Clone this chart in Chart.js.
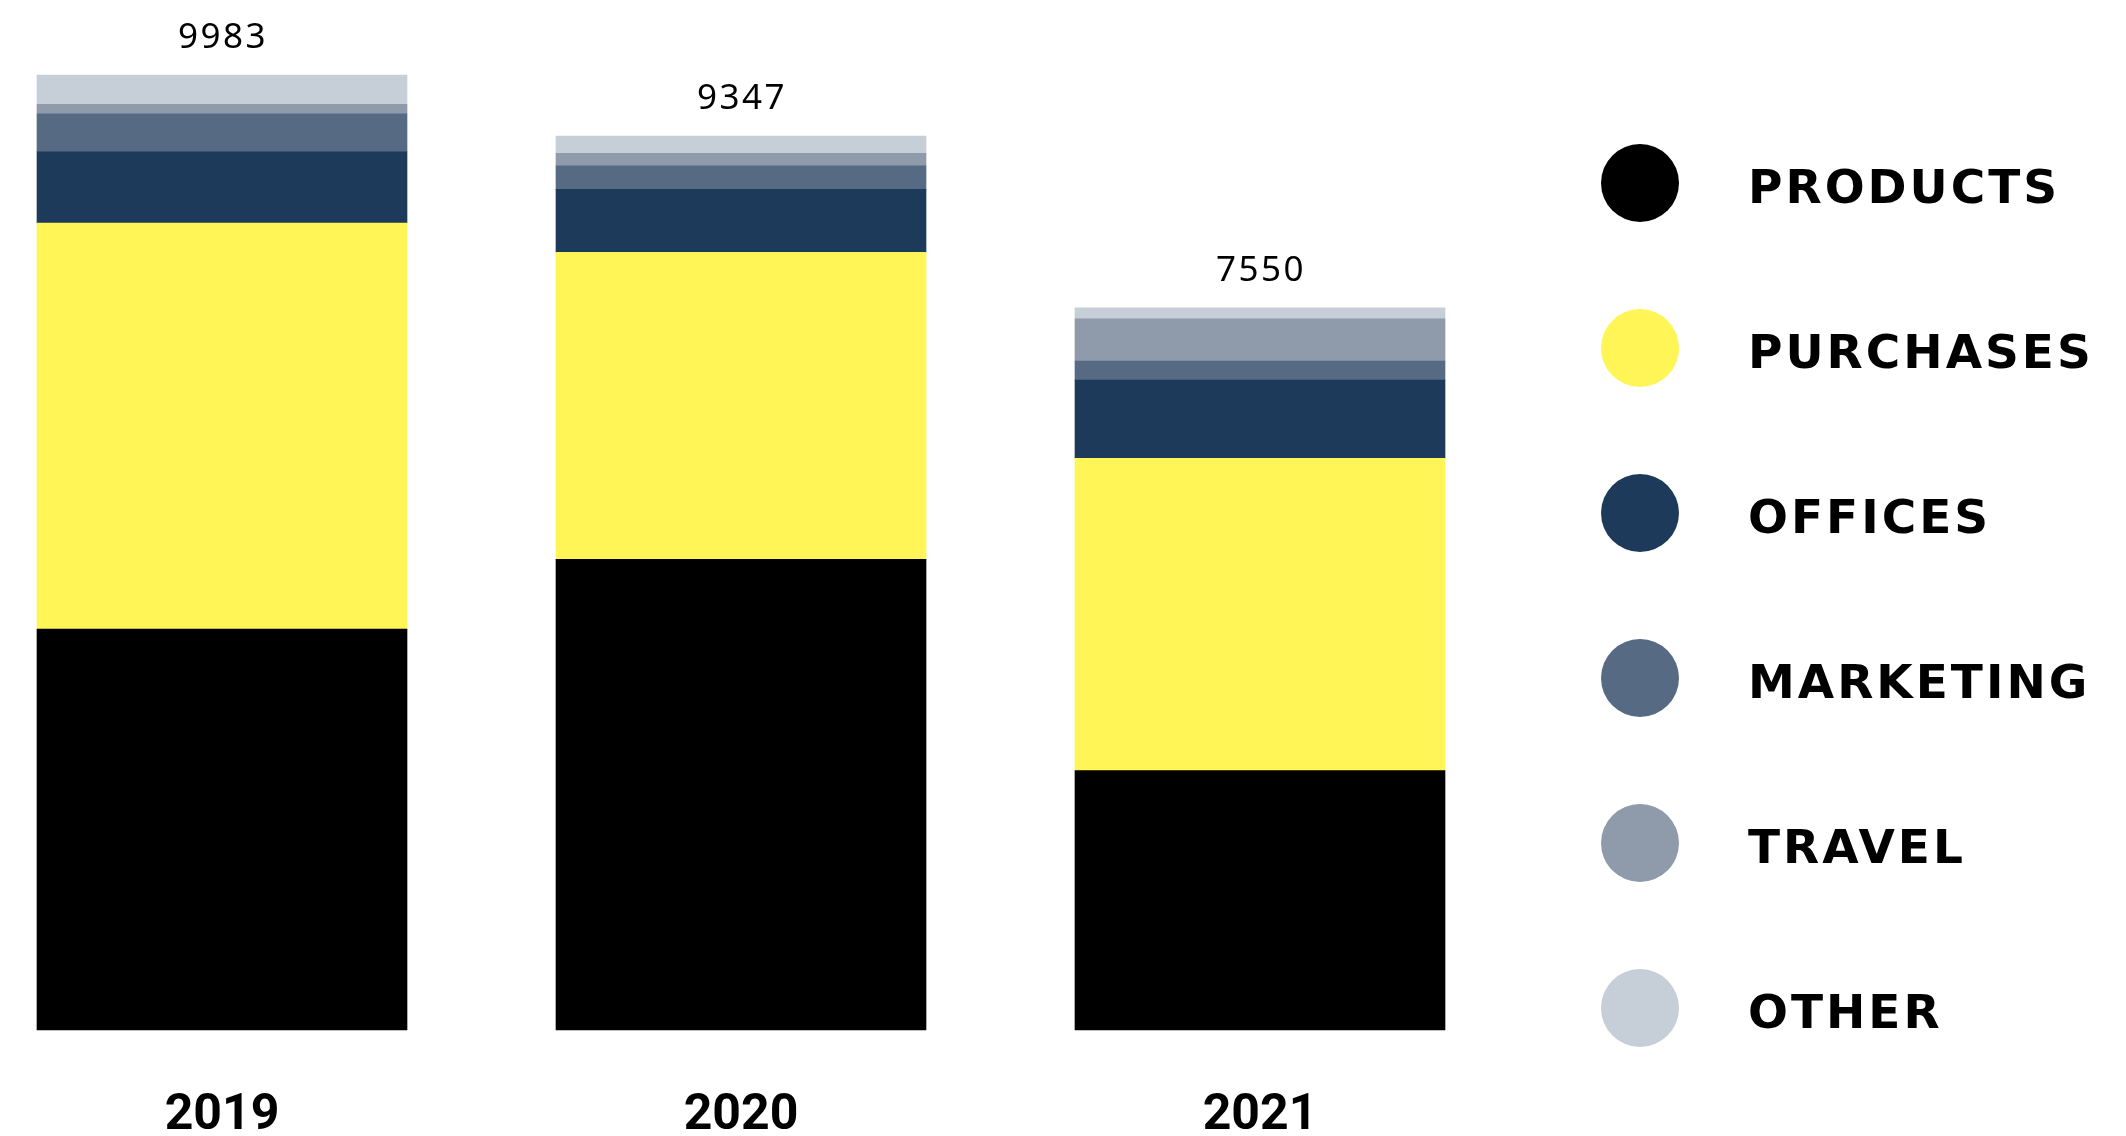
<!DOCTYPE html>
<html>
<head>
<meta charset="utf-8">
<title>Expenses by year</title>
<script src="https://cdn.jsdelivr.net/npm/chart.js@4.4.1/dist/chart.umd.min.js"></script>
<style>
    html, body { margin: 0; padding: 0; background: #fff; }
    .wrap { position: relative; width: 2126px; height: 1136px; overflow: hidden; }
    #chart { position: absolute; left: 0; top: 0; }
    #legend { position: absolute; left: 1601px; top: 100.5px; list-style: none; margin: 0; padding: 0; }
    #legend li { display: flex; align-items: center; height: 165px; }
    #legend .dot { width: 78px; height: 78px; border-radius: 50%; flex: none; }
    #legend .txt { margin-left: 69px; font: bold 47px "DejaVu Sans"; letter-spacing: 3px; color: #000; white-space: nowrap; position: relative; top: 3px; }
</style>
</head>
<body>
<div class="wrap">
    <canvas id="chart" width="2126" height="1136"></canvas>
    <ul id="legend"></ul>
</div>
<script>
    // Data
    var years = ["2019", "2020", "2021"];
    var products = [4191, 4920, 2712];
    var purchases = [4246, 3210, 3264];
    var offices = [745, 659, 818];
    var marketing = [397, 247, 200];
    var travel = [98, 129, 440];
    var other = [306, 182, 116];

    var colors = {
        products: "#000000",
        purchases: "#fff556",
        offices: "#1e3a5a",
        marketing: "#566a83",
        travel: "#8f9bab",
        other: "#c6ced7"
    };

    // Totals above each bar
    var totalsPlugin = {
        id: 'totals',
        afterDatasetsDraw: function (chart) {
            var ctx = chart.ctx;
            var xScale = chart.scales.x;
            var yScale = chart.scales.y;
            ctx.save();
            ctx.font = '35px "Noto Sans"';
            ctx.letterSpacing = '2.5px';
            ctx.fillStyle = '#000';
            ctx.textAlign = 'center';
            ctx.textBaseline = 'middle';
            years.forEach(function (year, i) {
                var total = 0;
                chart.data.datasets.forEach(function (ds) {
                    total += ds.data[i];
                });
                ctx.fillText(total, xScale.getPixelForValue(i) + 1, yScale.getPixelForValue(total) - 37);
            });
            ctx.restore();
        }
    };

    // HTML legend
    var htmlLegendPlugin = {
        id: 'htmlLegend',
        afterUpdate: function (chart) {
            var ul = document.getElementById('legend');
            ul.innerHTML = '';
            var items = chart.options.plugins.legend.labels.generateLabels(chart);
            items.forEach(function (item) {
                var li = document.createElement('li');
                var dot = document.createElement('span');
                dot.className = 'dot';
                dot.style.background = item.fillStyle;
                var txt = document.createElement('span');
                txt.className = 'txt';
                txt.textContent = item.text;
                li.appendChild(dot);
                li.appendChild(txt);
                ul.appendChild(li);
            });
        }
    };

    var ctx = document.getElementById('chart').getContext('2d');
    var myChart = new Chart(ctx, {
        type: 'bar',
        data: {
            labels: years,
            datasets: [
                { label: 'PRODUCTS', data: products, backgroundColor: colors.products },
                { label: 'PURCHASES', data: purchases, backgroundColor: colors.purchases },
                { label: 'OFFICES', data: offices, backgroundColor: colors.offices },
                { label: 'MARKETING', data: marketing, backgroundColor: colors.marketing },
                { label: 'TRAVEL', data: travel, backgroundColor: colors.travel },
                { label: 'OTHER', data: other, backgroundColor: colors.other }
            ]
        },
        options: {
            responsive: false,
            animation: false,
            layout: {
                padding: { left: 222, right: 866, top: 73.5, bottom: 2 }
            },
            datasets: {
                bar: { barThickness: 370, borderWidth: 0, clip: false }
            },
            scales: {
                x: {
                    stacked: true,
                    offset: false,
                    grid: { display: false, drawTicks: false },
                    border: { display: false },
                    afterFit: function (scale) {
                        scale.height = 104;
                    },
                    ticks: {
                        color: '#000',
                        padding: 61,
                        maxRotation: 0,
                        font: { family: 'Roboto', weight: 'bold', size: 50, lineHeight: 1 }
                    }
                },
                y: {
                    stacked: true,
                    display: false,
                    min: 0,
                    max: 10000
                }
            },
            plugins: {
                legend: { display: false },
                tooltip: { enabled: false }
            }
        },
        plugins: [totalsPlugin, htmlLegendPlugin]
    });
</script>
</body>
</html>
